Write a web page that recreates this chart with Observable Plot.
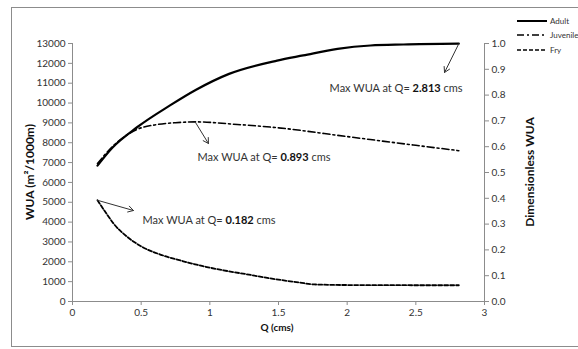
<!DOCTYPE html>
<html><head><meta charset="utf-8">
<script src="https://cdn.jsdelivr.net/npm/d3@7"></script>
<script src="https://cdn.jsdelivr.net/npm/@observablehq/plot@0.6"></script>
<style>
body{margin:0;background:#fff;}
#wrap{position:relative;width:578px;height:349px;overflow:hidden;}
#frame{position:absolute;left:11px;top:7px;width:600px;height:340px;border:1px solid #8c8c8c;box-sizing:border-box;}
#chart{position:absolute;left:0;top:0;}
</style></head>
<body><div id="wrap"><div id="frame"></div><div id="chart"></div></div>
<script>
const adultQ = [0.182,0.29,0.47,0.71,0.9,1.14,1.49,1.68,1.93,2.17,2.41,2.813];
const adultWUA = [6850,7750,8780,9880,10670,11470,12140,12400,12730,12900,12950,12990];
const juvQ = [0.182,0.29,0.47,0.62,0.75,0.893,1.2,1.5,2.0,2.5,2.813];
const juvWUA = [6950,7800,8670,8920,9010,9050,8920,8750,8310,7870,7600];
const fryQ = [0.182,0.25,0.3,0.4,0.5,0.65,0.8,0.95,1.1,1.27,1.5,1.65,1.76,2.0,2.5,2.813];
const fryWUA = [5100,4400,3920,3250,2780,2340,2040,1780,1570,1370,1100,960,860,830,820,820];
const xTicks = [0,0.5,1,1.5,2,2.5,3];
const yTicks = [0,1000,2000,3000,4000,5000,6000,7000,8000,9000,10000,11000,12000,13000];
const rightTicks = [0,0.1,0.2,0.3,0.4,0.5,0.6,0.7,0.8,0.9,1.0];
const rightMax = 13000;
const seriesNames = ["Adult","Juvenile","Fry"];
const maxQLabels = ["2.813","0.893","0.182"];
const noteX = [1.872,0.91,0.51];
const noteY = [10730,7256,4080];
const arrowFromX = [2.813,0.893,0.182];
const arrowFromY = [12990,9050,5100];
const arrowToX = [2.709,0.99,0.444];
const arrowToY = [11540,7960,4585];

const mk = (qs, ws) => qs.map((q,i)=>({q, w: ws[i]}));
const adult = mk(adultQ, adultWUA), juv = mk(juvQ, juvWUA), fry = mk(fryQ, fryWUA);
const notes = noteX.map((x,i)=>({x, y: noteY[i], v: maxQLabels[i]}));
const arrows = arrowFromX.map((x,i)=>({x1:x, y1:arrowFromY[i], x2:arrowToX[i], y2:arrowToY[i]}));

const font = "Lato, 'Open Sans', sans-serif";
const plot = Plot.plot({
  width: 578, height: 349,
  marginLeft: 72, marginRight: 94, marginTop: 43, marginBottom: 48,
  style: {fontFamily: font, fontSize: "10px", color: "#333", background: "transparent"},
  x: {domain: [0,3]},
  y: {domain: [0,13000]},
  marks: [
    Plot.ruleX([0], {stroke: "#8c8c8c"}),
    Plot.ruleX([3], {stroke: "#8c8c8c"}),
    Plot.ruleY([0], {stroke: "#8c8c8c"}),
    Plot.axisX({ticks: xTicks, tickSize: 4, tickPadding: 3, stroke: "#8c8c8c", label: null, tickFormat: d => String(d)}),
    Plot.axisY({anchor: "left", ticks: yTicks, tickSize: 4, tickPadding: 3, stroke: "#8c8c8c", label: null, tickFormat: d => String(d)}),
    Plot.axisY(rightTicks.map(t => t*rightMax), {anchor: "right", tickSize: 4, tickPadding: 3, stroke: "#8c8c8c", label: null, tickFormat: d => (d/rightMax).toFixed(1)}),
    Plot.line(adult, {x: "q", y: "w", stroke: "#000", strokeWidth: 2.2, curve: "monotone-x"}),
    Plot.line(juv, {x: "q", y: "w", stroke: "#000", strokeWidth: 1.6, strokeDasharray: "7,3,2,3", curve: "monotone-x"}),
    Plot.line(fry, {x: "q", y: "w", stroke: "#000", strokeWidth: 1.8, strokeDasharray: "4,2", curve: "monotone-x"}),
    Plot.arrow(arrows, {x1: "x1", y1: "y1", x2: "x2", y2: "y2", stroke: "#333", strokeWidth: 1, headLength: 9}),
    Plot.text(notes, {x: "x", y: "y", text: d => "Max WUA at Q= " + d.v + " cms", textAnchor: "start", fontSize: 11, fill: "#333", className: "note"})
  ]
});
document.getElementById("chart").appendChild(plot);

const svg = d3.select(plot);
svg.selectAll("g.note text").each(function(){
  const t = d3.select(this);
  const s = t.text();
  const m = s.match(/^(Max WUA at Q= )([0-9.]+)( cms)$/);
  if (!m) return;
  t.text(null);
  t.append("tspan").text(m[1]);
  t.append("tspan").attr("font-weight","bold").attr("fill","#111").text(m[2]);
  t.append("tspan").text(m[3]);
});
svg.append("text").attr("transform","translate(34,172) rotate(-90)")
  .attr("text-anchor","middle").attr("font-weight","bold").attr("font-size",12).attr("fill","#111")
  .attr("font-family",font).text("WUA (m²/1000m)");
svg.append("text").attr("transform","translate(534,172) rotate(-90)")
  .attr("text-anchor","middle").attr("font-weight","bold").attr("font-size",12).attr("fill","#111")
  .attr("font-family",font).text("Dimensionless WUA");
svg.append("text").attr("x",277).attr("y",331)
  .attr("text-anchor","middle").attr("font-weight","bold").attr("font-size",10).attr("fill","#111")
  .attr("font-family",font).text("Q (cms)");
const dashes = [null, "7,3,2,3", "4,2"];
const widths = [2, 1.5, 1.6];
const ly = [21, 35, 50];
seriesNames.forEach((name,i)=>{
  svg.append("line").attr("x1",517).attr("x2",547).attr("y1",ly[i]).attr("y2",ly[i])
    .attr("stroke","#000").attr("stroke-width",widths[i]).attr("stroke-dasharray",dashes[i]);
  svg.append("text").attr("x",550).attr("y",ly[i]+3).attr("text-anchor","start").attr("font-size",8).attr("fill","#333")
    .attr("font-family",font).text(name);
});
</script></body></html>
